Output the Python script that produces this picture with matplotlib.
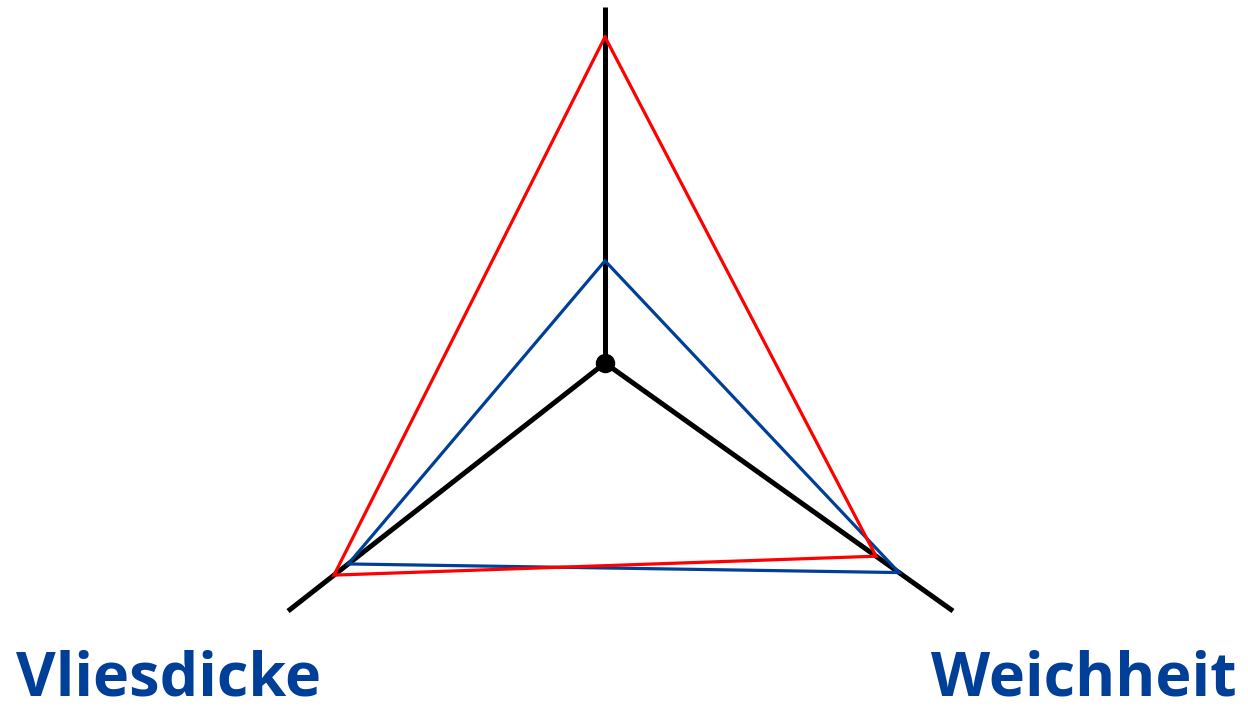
import numpy as np
import matplotlib
matplotlib.use("Agg")
import matplotlib.pyplot as plt

# Achsen des Netzdiagramms (oben ohne Beschriftung)
axis_labels = ["", "Vliesdicke", "Weichheit"]
axis_angle = [90.0, 218.05, -35.48]     # Richtung in Grad
axis_len = [356.0, 402.5, 427.3]        # Länge in Pixeln (= 100 %)

red_vals = [91.6, 85.5, 77.9]
blue_vals = [28.7, 81.0, 84.5]

blue = "#003f98"

fig = plt.figure(figsize=(12.48, 7.12), dpi=100)
ax = fig.add_axes([0, 0, 1, 1])
ax.set_xlim(-605, 643)
ax.set_ylim(-349, 363)
ax.set_aspect("equal")
ax.axis("off")

ang = np.radians(axis_angle)
ux, uy = np.cos(ang), np.sin(ang)
L = np.array(axis_len)

# Achsen
for i in range(3):
    ax.plot([0, ux[i] * L[i]], [0, uy[i] * L[i]], color="black", lw=3.6,
            solid_capstyle="butt", zorder=2)
ax.plot(0, 0, "o", color="black", ms=13, zorder=5)

def poly(vals, color):
    r = np.array(vals) / 100.0 * L
    x = np.append(ux * r, ux[0] * r[0])
    y = np.append(uy * r, uy[0] * r[0])
    ax.plot(x, y, color=color, lw=2.3, zorder=3, solid_joinstyle="miter")

poly(blue_vals, blue)
poly(red_vals, "#ff0000")

fp = dict(family=["Open Sans", "DejaVu Sans"], fontweight="bold", fontsize=44,
          color=blue, va="bottom")
ax.text(-589, -348, axis_labels[1], ha="left", **fp)
ax.text(632, -348, axis_labels[2], ha="right", **fp)

fig.savefig("out.png", dpi=100)
